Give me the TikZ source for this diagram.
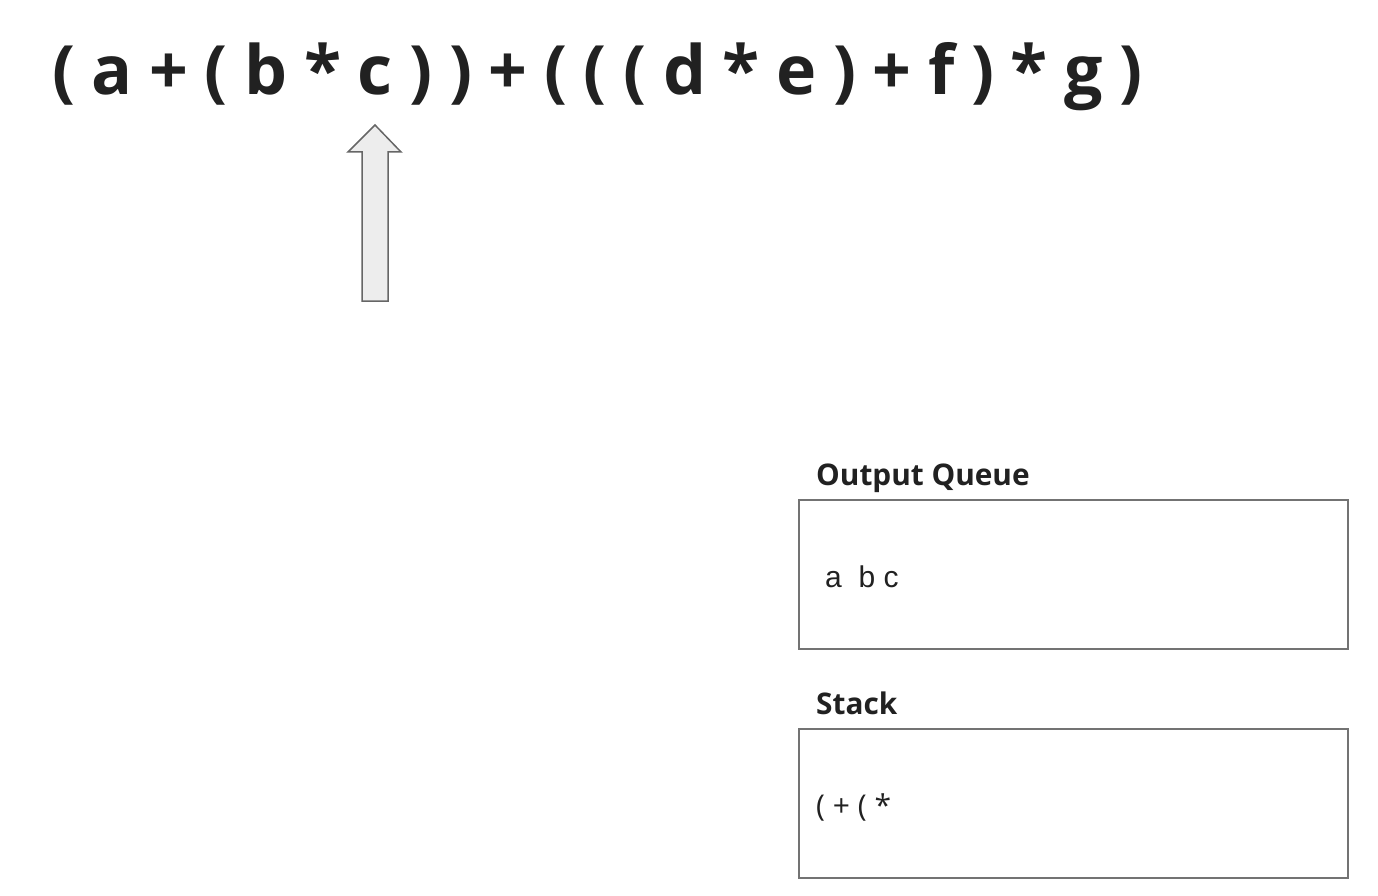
\documentclass[tikz,border=0pt]{standalone}
\usepackage{fontspec}
\setmainfont{Open Sans}
\newfontfamily\arialfont{Liberation Sans}
\newfontfamily\exprfont[WordSpace=0.94]{Open Sans Bold}
\usetikzlibrary{positioning}

\begin{document}
\begin{tikzpicture}[
x=1pt, y=-1pt,
every node/.style={inner sep=0pt, text=black!87},
expr/.style={anchor=base west, font=\fontsize{68}{80}\exprfont},
heading/.style={anchor=base west, font=\fontsize{29.8}{34}\selectfont\bfseries},
content/.style={anchor=base west, font=\fontsize{30}{36}\selectfont},
panel/.style={draw=black!55, line width=1.2pt},
pointer/.style={draw=black!60, fill=black!7, line width=1.5pt}
]
\useasboundingbox (0,0) rectangle (1378,896);

% Expression
\node[expr] (expr) at (52,95) {( a + ( b * c ) ) + ( ( ( d * e ) + f ) * g )};

% Pointer
\draw[pointer] (362,301) -- (362,152) -- (348,152) -- (375,125) -- (401,152)
  -- (388,152) -- (388,301) -- cycle;

% Output queue
\node[heading] (qlabel) at (816,485) {Output Queue};
\draw[panel] (799,500) rectangle (1348,649);
\node[content, font=\fontsize{30}{36}\arialfont] (queue) at (825,587) {a\ \ b c};

% Stack
\node[heading] (slabel) at (816,714) {Stack};
\draw[panel] (799,729) rectangle (1348,878);
\node[content] (stack) at (816,816) {( + ( *};

\end{tikzpicture}
\end{document}
